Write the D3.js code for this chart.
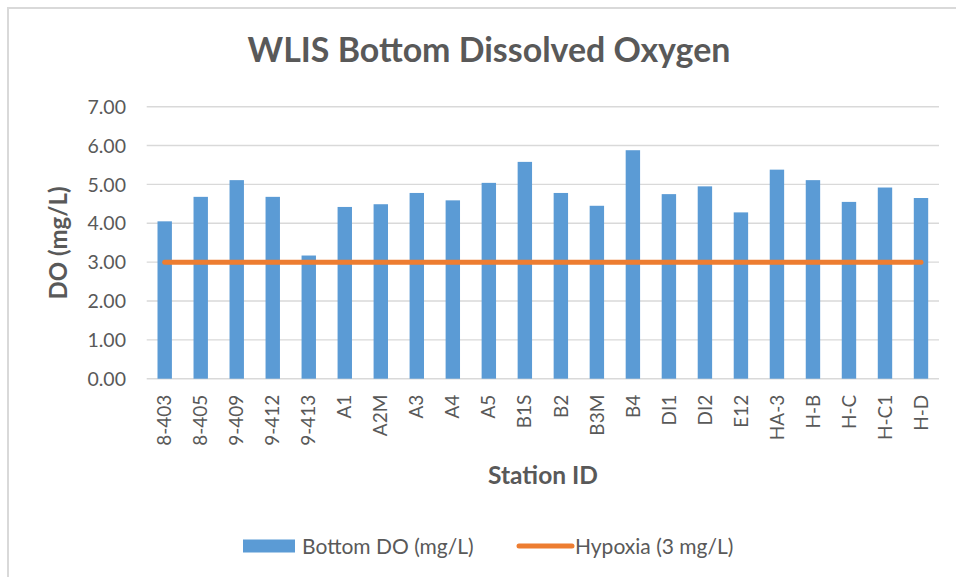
<!DOCTYPE html>
<html><head><meta charset="utf-8">
<script src="https://cdn.jsdelivr.net/npm/d3@7"></script>
<style>
html,body{margin:0;padding:0;background:#fff;}
svg{display:block;}
text{font-family:Lato,"Open Sans",sans-serif;fill:#595959;}
</style></head>
<body>
<script>
const categories = ["8-403","8-405","9-409","9-412","9-413","A1","A2M","A3","A4","A5","B1S","B2","B3M","B4","DI1","DI2","E12","HA-3","H-B","H-C","H-C1","H-D"];
const bottomDO = [4.05,4.68,5.11,4.68,3.17,4.42,4.49,4.78,4.59,5.04,5.58,4.78,4.45,5.88,4.75,4.95,4.28,5.38,5.11,4.55,4.92,4.65];
const hypoxia = [3,3,3,3,3,3,3,3,3,3,3,3,3,3,3,3,3,3,3,3,3,3];
const yTicks = [0,1,2,3,4,5,6,7];
const titleText = "WLIS Bottom Dissolved Oxygen";
const yTitle = "DO (mg/L)";
const xTitle = "Station ID";
const seriesNames = ["Bottom DO (mg/L)","Hypoxia (3 mg/L)"];

const W = 956, H = 577;
const svg = d3.select("body").append("svg").attr("width", W).attr("height", H);

// chart border (only top and left visible in reference)
svg.append("rect").attr("x", 8).attr("y", 8).attr("width", 1000).attr("height", 1000)
  .attr("fill", "none").attr("stroke", "#d9d9d9").attr("stroke-width", 2);

const x = d3.scaleBand().domain(categories).range([146.7, 939]).paddingInner(0.6).paddingOuter(0.3);
const y = d3.scaleLinear().domain([0, 7]).range([378.7, 106.7]);

function fit(sel, w){ const n = sel.node(); const cur = n.getComputedTextLength(); const fs = parseFloat(sel.attr("font-size")); sel.attr("font-size", fs * w / cur); }

// gridlines
svg.append("g").selectAll("line").data(yTicks).join("line")
  .attr("x1", 146.7).attr("x2", 939).attr("y1", d => y(d)).attr("y2", d => y(d))
  .attr("stroke", "#d9d9d9").attr("stroke-width", 1.4);

// y axis
const yAxis = svg.append("g").attr("transform", "translate(126,0)")
  .call(d3.axisLeft(y).tickValues(yTicks).tickFormat(d3.format(".2f")).tickSize(0).tickPadding(0));
yAxis.select(".domain").remove();
yAxis.selectAll("text").attr("font-size", 19.5).attr("font-family", "Lato").attr("fill", "#595959").attr("dy", "0.34em");

// bars
svg.append("g").selectAll("rect").data(categories).join("rect")
  .attr("x", d => x(d)).attr("width", x.bandwidth())
  .attr("y", (d, i) => y(bottomDO[i])).attr("height", (d, i) => y(0) - y(bottomDO[i]))
  .attr("fill", "#5B9BD5");

// hypoxia line
const line = d3.line().x((d, i) => x(categories[i]) + x.bandwidth() / 2).y(d => y(d));
svg.append("path").datum(hypoxia).attr("d", line)
  .attr("fill", "none").attr("stroke", "#ED7D31").attr("stroke-width", 5).attr("stroke-linecap", "round");

// x axis
const xAxis = svg.append("g").attr("transform", "translate(0,378.7)")
  .call(d3.axisBottom(x).tickSize(0).tickPadding(0));
xAxis.select(".domain").remove();
xAxis.selectAll("text").attr("font-size", 19).attr("font-family", "Lato").attr("fill", "#595959")
  .attr("transform", "translate(0,16) rotate(-90)").attr("text-anchor", "end")
  .attr("x", 0).attr("y", 0).attr("dy", "0.35em");

// title
const t = svg.append("text").attr("x", 489).attr("y", 62).attr("text-anchor", "middle")
  .attr("font-size", 26).attr("font-weight", "bold").text(titleText);
fit(t, 483);

// axis titles
const yt = svg.append("text").attr("transform", "translate(67,243) rotate(-90)").attr("text-anchor", "middle")
  .attr("font-size", 20).attr("font-weight", "bold").text(yTitle);
fit(yt, 113);
const xt = svg.append("text").attr("x", 543).attr("y", 484).attr("text-anchor", "middle")
  .attr("font-size", 20).attr("font-weight", "bold").text(xTitle);
fit(xt, 110);

// legend
const lg = svg.append("g");
lg.append("rect").attr("x", 243).attr("y", 539.5).attr("width", 52).attr("height", 13).attr("fill", "#5B9BD5");
lg.append("text").attr("x", 302).attr("y", 553.5).attr("font-size", 21).text(seriesNames[0]);
lg.append("line").attr("x1", 519).attr("x2", 572).attr("y1", 546).attr("y2", 546)
  .attr("stroke", "#ED7D31").attr("stroke-width", 5).attr("stroke-linecap", "round");
lg.append("text").attr("x", 575).attr("y", 553.5).attr("font-size", 21).text(seriesNames[1]);
</script>
</body></html>
